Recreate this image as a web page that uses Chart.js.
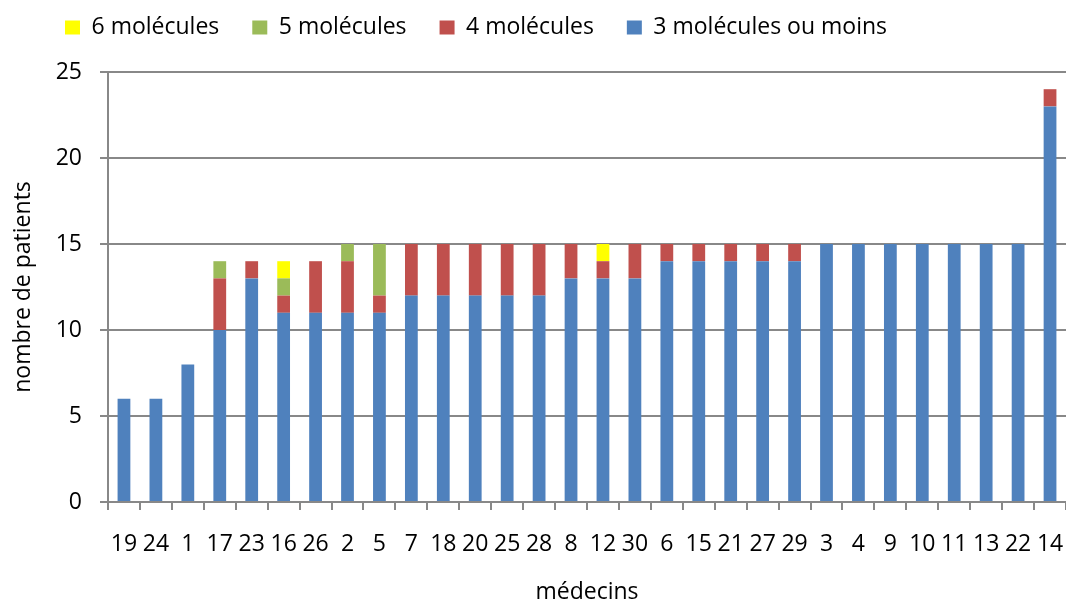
<!DOCTYPE html>
<html><head><meta charset="utf-8">
<script src="https://cdn.jsdelivr.net/npm/chart.js@4/dist/chart.umd.min.js"></script>
<style>html,body{margin:0;padding:0;background:#fff}#w{width:1066px;height:607px}</style>
</head><body><div id="w"><canvas id="c"></canvas></div>
<script>
const categories = ['19','24','1','17','23','16','26','2','5','7','18','20','25','28','8','12','30','6','15','21','27','29','3','4','9','10','11','13','22','14'];
const mol3 = [6,6,8,10,13,11,11,11,11,12,12,12,12,12,13,13,13,14,14,14,14,14,15,15,15,15,15,15,15,23];
const mol4 = [0,0,0,3,1,1,3,3,1,3,3,3,3,3,2,1,2,1,1,1,1,1,0,0,0,0,0,0,0,1];
const mol5 = [0,0,0,1,0,1,0,1,3,0,0,0,0,0,0,0,0,0,0,0,0,0,0,0,0,0,0,0,0,0];
const mol6 = [0,0,0,0,0,1,0,0,0,0,0,0,0,0,0,1,0,0,0,0,0,0,0,0,0,0,0,0,0,0];
const yTicks = [0,5,10,15,20,25];
const FONT = 'Open Sans';
const FS = 23;
const grey = '#888888';
const mk = (label, data, color) => ({label, data, backgroundColor: color, borderWidth: 0, barPercentage: 0.4, categoryPercentage: 1.0});
const legendShift = {
  id: 'legendShift',
  beforeDraw(chart) {
    if (chart.legend) { chart.legend.left = 32; chart.legend.top = -17; }
  }
};
new Chart(document.getElementById('c'), {
  type: 'bar',
  data: {
    labels: categories,
    datasets: [
      mk('3 molécules ou moins', mol3, '#4f81bd'),
      mk('4 molécules', mol4, '#c0504d'),
      mk('5 molécules', mol5, '#9bbb59'),
      mk('6 molécules', mol6, '#ffff00')
    ]
  },
  plugins: [legendShift],
  options: {
    responsive: true, maintainAspectRatio: false, animation: false,
    layout: {padding: {left: 0, right: 0, top: 6, bottom: 0}},
    plugins: {
      tooltip: {enabled: false},
      legend: {
        position: 'top', align: 'start', reverse: true,
        labels: {font: {family: FONT, size: FS}, color: '#000', boxWidth: 15, boxHeight: 14, padding: 33}
      }
    },
    scales: {
      x: {
        stacked: true,
        afterFit: (s) => { s.paddingLeft = 0; s.paddingRight = 0; s.height = 105; },
        grid: {offset: true, drawOnChartArea: false, drawTicks: true, tickLength: 8, color: grey, lineWidth: 2},
        border: {color: grey, width: 2},
        ticks: {font: {family: FONT, size: FS}, color: '#000', maxRotation: 0, autoSkip: false, padding: 21},
        title: {display: true, text: 'médecins', font: {family: FONT, size: FS}, color: '#000', padding: {top: 0, bottom: 1}}
      },
      y: {
        stacked: true, min: 0, max: 25,
        afterFit: (s) => { s.width = 108; },
        afterBuildTicks: (ax) => { ax.ticks = yTicks.map(v => ({value: v})); },
        grid: {color: grey, lineWidth: 2, tickLength: 8},
        border: {color: grey, width: 2},
        ticks: {font: {family: FONT, size: FS}, color: '#000', padding: 18},
        title: {display: true, text: 'nombre de patients', font: {family: FONT, size: FS}, color: '#000', padding: {top: 10, bottom: 0}}
      }
    }
  }
});
</script></body></html>
